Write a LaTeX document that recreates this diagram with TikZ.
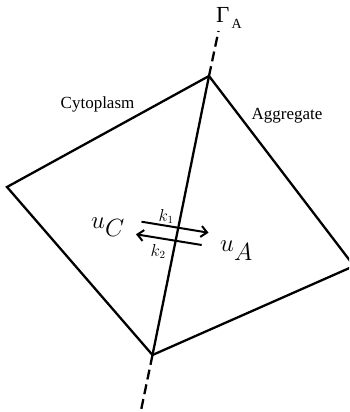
\documentclass[tikz,border=0pt]{standalone}
\usepackage{fontspec}
\setmainfont{Liberation Serif}
\usetikzlibrary{arrows.meta}
\begin{document}
\begin{tikzpicture}[x=1pt,y=-1pt,
  edge/.style={line width=2.3pt,line join=miter},
  bdash/.style={line width=2.3pt,dash pattern=on 10pt off 5pt},
  flux/.style={line width=2pt,-{Straight Barb[length=6pt,width=11pt,line width=2pt]}},
  lbl/.style={inner sep=0pt,anchor=base west}]
\useasboundingbox (0,0) rectangle (349,412);
\clip (0,0) rectangle (349,412);
\coordinate (T) at (209,76);
\coordinate (L) at (7,187);
\coordinate (R) at (354,266);
\coordinate (B) at (152.5,355);
\coordinate (Gt) at (218.5,31);
\coordinate (Gb) at (139,420);
\draw[edge] (L) -- (T) -- (R) -- (B) -- cycle;
\draw[edge] (T) -- (B);
\draw[bdash] (T) -- (Gt);
\draw[bdash] (B) -- (Gb);
\coordinate (a1s) at (141.5,221.7);
\coordinate (a1e) at (208.5,232.7);
\coordinate (a2s) at (201.7,245);
\coordinate (a2e) at (136,234.3);
\draw[flux] (a1s) -- (a1e);
\draw[flux] (a2s) -- (a2e);
\node[lbl] (cyto) at (60.5,108.3) {\fontsize{17}{20}\selectfont Cytoplasm};
\node[lbl] (aggr) at (251.5,119) {\fontsize{17}{20}\selectfont Aggregate};
\node[lbl] (gam) at (216,22.7) {\fontsize{23}{25}\selectfont Γ\kern2pt\raisebox{-5.6pt}{\fontsize{14}{16}\selectfont A}};
\node[lbl] (uc) at (91,228) {\fontsize{35}{40}\selectfont $u_C$};
\node[lbl] (ua) at (220,251.7) {\fontsize{35}{40}\selectfont $u_A$};
\node[lbl] (k1) at (158.5,221) {\fontsize{16}{18}\selectfont $k_1$};
\node[lbl] (k2) at (150.5,256) {\fontsize{16}{18}\selectfont $k_2$};
\end{tikzpicture}
\end{document}
